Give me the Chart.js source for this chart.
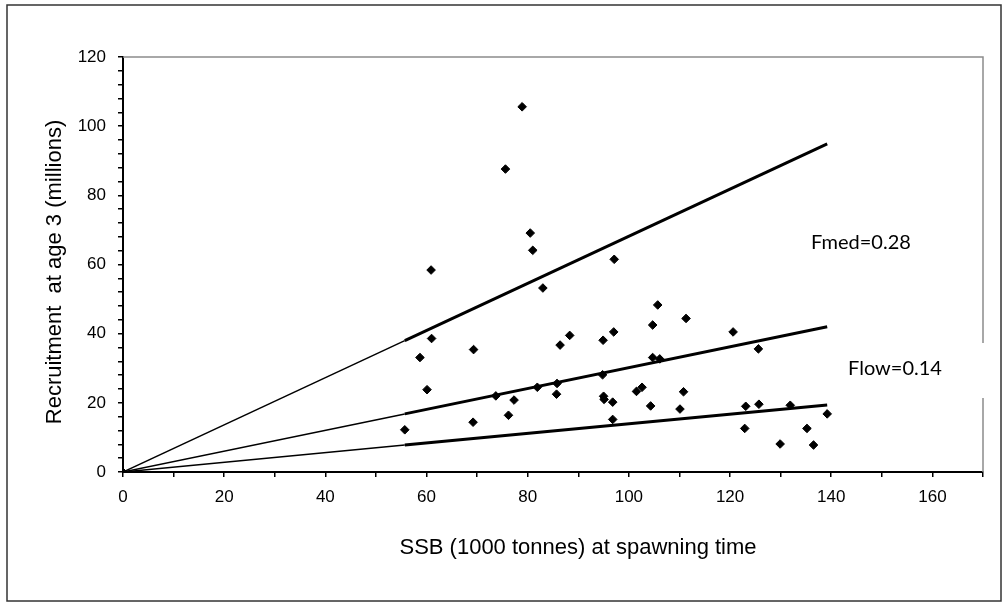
<!DOCTYPE html>
<html>
<head>
<meta charset="utf-8">
<script src="https://cdn.jsdelivr.net/npm/chart.js@4"></script>
<style>
  body { margin: 0; background: #fff; }
  canvas { display: block; }
</style>
</head>
<body>
<canvas id="chart" width="1008" height="606"></canvas>
<script>
// observed stock / recruitment pairs
const ssb = [55.7, 58.7, 60.1, 60.9, 61.0, 69.2, 69.3, 73.7, 75.6, 76.2, 77.3, 78.9,
  80.5, 81.0, 81.9, 83.0, 85.7, 85.8, 86.4, 88.3, 94.9, 94.8, 95.0, 95.1, 96.8, 96.8,
  97.0, 97.1, 101.5, 102.6, 104.3, 104.7, 104.7, 105.7, 106.1, 110.1, 110.8, 111.3,
  120.6, 122.9, 123.1, 125.6, 125.7, 129.9, 131.9, 135.2, 136.5, 139.2];
const recruitment = [12.2, 33.1, 23.8, 58.4, 38.6, 14.4, 35.4, 22.0, 87.6, 16.4, 20.8, 105.6,
  69.1, 64.1, 24.5, 53.2, 22.5, 25.6, 36.7, 39.5, 38.1, 28.1, 21.9, 21.0, 20.2, 15.2,
  40.5, 61.5, 23.3, 24.5, 19.1, 42.5, 33.1, 48.3, 32.7, 18.2, 23.2, 44.4,
  40.5, 12.6, 19.0, 35.6, 19.6, 8.1, 19.3, 12.6, 7.8, 16.8];

// replacement lines through the origin (thin to first SSB, thick over data range)
const lineSsb = [0, 55.7, 139.2];
const upperLine = [0, 38.0, 94.9];
const middleLine = [0, 16.8, 42.0];
const lowerLine = [0, 7.8, 19.4];

const xTitle = "SSB (1000 tonnes) at spawning time";
const yTitle = "Recruitment  at age 3 (millions)";
const fmedLabel = "Fmed=0.28";
const flowLabel = "Flow=0.14";

const tickFont = { family: '"Liberation Sans", Arial, sans-serif', size: 17 };

function toPoints(xs, ys) {
  return xs.map((x, i) => ({ x: x, y: ys[i] }));
}

function refLine(values) {
  return {
    data: toPoints(lineSsb, values),
    showLine: true,
    borderColor: "#000",
    backgroundColor: "#000",
    borderWidth: 3,
    segment: {
      borderWidth: (ctx) => (ctx.p0DataIndex === 0 ? 1.5 : 3),
    },
    pointStyle: "rectRot",
    pointRadius: (ctx) => (ctx.dataIndex === 0 ? 4 : 0),
    pointBorderWidth: 1,
  };
}

const extras = {
  id: "extras",
  beforeDatasetsDraw(chart) {
    const { ctx, chartArea } = chart;
    ctx.save();
    ctx.strokeStyle = "#8c8c8c";
    ctx.lineWidth = 1.5;
    ctx.beginPath();
    ctx.moveTo(chartArea.left, chartArea.top);
    ctx.lineTo(chartArea.right, chartArea.top);
    ctx.lineTo(chartArea.right, chartArea.bottom);
    ctx.stroke();
    ctx.restore();
  },
  afterDraw(chart) {
    const ctx = chart.ctx;
    ctx.save();
    // white box behind the Flow label cuts the plot frame
    ctx.fillStyle = "#fff";
    ctx.fillRect(842, 343, 152, 55);

    ctx.fillStyle = "#000";
    ctx.textAlign = "center";
    ctx.textBaseline = "middle";
    ctx.font = '20px Lato, "Open Sans", sans-serif';
    ctx.fillText(fmedLabel, 861, 243);
    ctx.fillText(flowLabel, 895, 369);

    ctx.font = '22px "Liberation Sans", Arial, sans-serif';
    ctx.fillText(xTitle, 578, 548);
    ctx.translate(55, 272);
    ctx.rotate(-Math.PI / 2);
    ctx.fillText(yTitle, 0, 0);
    ctx.restore();

    ctx.save();
    ctx.strokeStyle = "#333";
    ctx.lineWidth = 1.5;
    ctx.strokeRect(7, 5, 994, 596);
    ctx.restore();
  },
};

new Chart(document.getElementById("chart"), {
  type: "scatter",
  data: {
    datasets: [
      {
        data: toPoints(ssb, recruitment),
        pointStyle: "rectRot",
        pointRadius: 4.3,
        pointBorderWidth: 1,
        backgroundColor: "#000",
        borderColor: "#000",
      },
      refLine(upperLine),
      refLine(middleLine),
      refLine(lowerLine),
    ],
  },
  options: {
    responsive: false,
    animation: false,
    devicePixelRatio: 1,
    layout: { padding: { top: 57, right: 25, left: 0, bottom: 0 } },
    plugins: { legend: { display: false }, tooltip: { enabled: false } },
    scales: {
      x: {
        type: "linear",
        min: 0,
        max: 170,
        afterFit: (scale) => { scale.height = 134; },
        ticks: {
          stepSize: 10,
          autoSkip: false,
          maxRotation: 0,
          padding: 10,
          color: "#000",
          font: tickFont,
          callback: (v) => (v % 20 === 0 && v <= 160 ? v : ""),
        },
        grid: { drawOnChartArea: false, drawTicks: true, tickLength: 5, color: "#000", lineWidth: 1.5 },
        border: { color: "#000", width: 2 },
      },
      y: {
        min: 0,
        max: 120,
        afterFit: (scale) => { scale.width = 123; },
        ticks: {
          stepSize: 4,
          autoSkip: false,
          padding: 12,
          color: "#000",
          font: tickFont,
          callback: (v) => (v % 20 === 0 ? v : ""),
        },
        grid: { drawOnChartArea: false, drawTicks: true, tickLength: 5, color: "#000", lineWidth: 1.5 },
        border: { color: "#000", width: 2 },
      },
    },
  },
  plugins: [extras],
});
</script>
</body>
</html>
